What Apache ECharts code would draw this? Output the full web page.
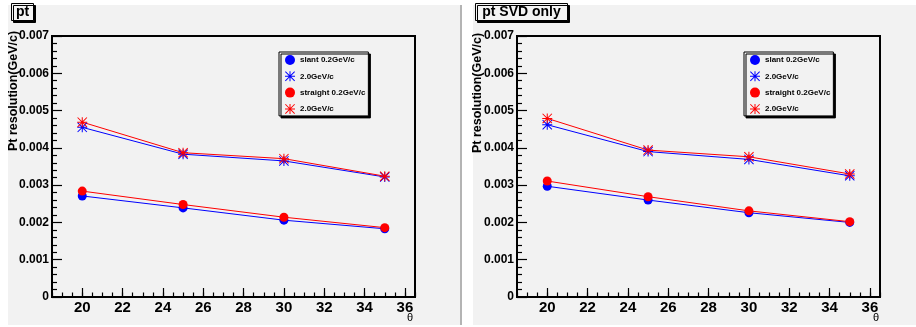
<!DOCTYPE html>
<html>
<head>
<meta charset="utf-8">
<script src="https://cdn.jsdelivr.net/npm/echarts@6/dist/echarts.min.js"></script>
<style>
  html, body { margin: 0; padding: 0; background: #fff; }
  #chart { width: 916px; height: 327px; }
</style>
</head>
<body>
<div id="chart"></div>
<script>
// theta values (x) and Pt resolution values
const theta = [20, 25, 30, 35];
const xTickValues = [20, 22, 24, 26, 28, 30, 32, 34, 36];

// panel "pt"
const ptSlant02 = [0.00271, 0.00239, 0.00206, 0.00183];
const ptSlant20 = [0.00455, 0.00383, 0.00365, 0.00322];
const ptStraight02 = [0.00284, 0.00248, 0.00214, 0.00186];
const ptStraight20 = [0.00469, 0.00387, 0.00371, 0.00324];

// panel "pt SVD only"
const svdSlant02 = [0.00297, 0.00260, 0.00226, 0.00200];
const svdSlant20 = [0.00462, 0.00390, 0.00369, 0.00325];
const svdStraight02 = [0.00311, 0.00269, 0.00231, 0.00202];
const svdStraight20 = [0.00479, 0.00394, 0.00376, 0.00330];

const legendLabels = {
  'slant 0.2GeV/c': 'slant 0.2GeV/c',
  'slant 2.0GeV/c': '2.0GeV/c',
  'straight 0.2GeV/c': 'straight 0.2GeV/c',
  'straight 2.0GeV/c': '2.0GeV/c'
};

const FONT = 'Liberation Sans';
// asterisk marker (ROOT style 3)
const STAR = 'path://M9 0L11 0L11 20L9 20Z M0 9L20 9L20 11L0 11Z M1.4 0L20 18.6L18.6 20L0 1.4Z M18.6 0L20 1.4L1.4 20L0 18.6Z';

const chart = echarts.init(document.getElementById('chart'));

const grids = [
  { left: 52, top: 36, width: 363, height: 261 },
  { left: 517, top: 36, width: 363, height: 261 }
];

function mainX(gi) {
  return {
    type: 'value', gridIndex: gi, min: 18.5, max: 36.5,
    axisLine: { lineStyle: { color: '#000', width: 2 } },
    axisTick: { inside: true, length: 9, customValues: xTickValues, lineStyle: { color: '#000', width: 1.2 } },
    axisLabel: { customValues: xTickValues, margin: 3, color: '#000', fontFamily: FONT, fontWeight: 'bold', fontSize: 15 },
    splitLine: { show: false }
  };
}
function minorX(gi) {
  return {
    type: 'value', gridIndex: gi, min: 18.5, max: 36.5, interval: 0.5, position: 'bottom',
    axisLine: { show: false },
    axisTick: { inside: true, length: 4.5, lineStyle: { color: '#000', width: 1.2 } },
    axisLabel: { show: false },
    splitLine: { show: false }
  };
}
function yAx(gi) {
  return {
    type: 'value', gridIndex: gi, min: 0, max: 0.007, interval: 0.001,
    axisLine: { show: true, lineStyle: { color: '#000', width: 2 } },
    axisTick: { show: true, inside: true, length: 10, lineStyle: { color: '#000', width: 1.2 } },
    minorTick: { show: true, splitNumber: 5, length: 5, lineStyle: { color: '#000', width: 1.2 } },
    axisLabel: {
      margin: 3, color: '#000', fontFamily: FONT, fontWeight: 'bold', fontSize: 12,
      formatter: v => (v === 0 ? '0' : v.toFixed(3))
    },
    splitLine: { show: false }
  };
}

function mk(name, vals, color, symbol, size, xi, yi) {
  return {
    name, type: 'line', xAxisIndex: xi, yAxisIndex: yi,
    data: theta.map((t, i) => [t, vals[i]]),
    symbol, symbolSize: size, showSymbol: true,
    lineStyle: { color, width: 1 },
    itemStyle: { color },
    emphasis: { disabled: true },
    z: 3
  };
}

function legendAt(left) {
  return {
    left, top: 52, orient: 'vertical', selectedMode: false,
    itemWidth: 10, itemHeight: 10, itemGap: 6.3,
    padding: [3, 3, 2, 6],
    backgroundColor: '#f2f2f2', borderColor: '#000', borderWidth: 1,
    shadowColor: '#000', shadowOffsetX: 2, shadowOffsetY: 2, shadowBlur: 0,
    textStyle: { fontFamily: FONT, fontWeight: 'bold', fontSize: 8, color: '#000' },
    formatter: n => legendLabels[n],
    data: [
      { name: 'slant 0.2GeV/c', icon: 'circle' },
      { name: 'slant 2.0GeV/c', icon: STAR },
      { name: 'straight 0.2GeV/c', icon: 'circle' },
      { name: 'straight 2.0GeV/c', icon: STAR }
    ]
  };
}

function titleBox(x, w, text) {
  return [
    { type: 'rect', shape: { x: x + 0.5, y: 3.5, width: w, height: 17 },
      style: { fill: '#f4f4f4', stroke: '#000', lineWidth: 1, shadowColor: '#000', shadowOffsetX: 2, shadowOffsetY: 2, shadowBlur: 0 } },
    { type: 'text', x: x + w / 2 + 0.5, y: 12.5,
      style: { text, fill: '#000', font: 'bold 14px "Liberation Sans"', textAlign: 'center', textVerticalAlign: 'middle' } }
  ];
}

function yName(x, y) {
  return { type: 'text', x, y, rotation: Math.PI / 2,
    style: { text: 'Pt resolution(GeV/c)', fill: '#000', font: 'bold 12.5px "Liberation Sans"', textAlign: 'center', textVerticalAlign: 'middle' } };
}
function thetaName(x, y) {
  return { type: 'text', x, y,
    style: { text: 'θ', fill: '#000', font: '11px "Liberation Sans"', textAlign: 'center', textVerticalAlign: 'middle' } };
}

const option = {
  animation: false,
  backgroundColor: '#fff',
  grid: grids.map(g => Object.assign({ show: true, borderColor: '#000', borderWidth: 2, backgroundColor: 'transparent' }, g)),
  xAxis: [mainX(0), minorX(0), mainX(1), minorX(1)],
  yAxis: [yAx(0), yAx(1)],
  legend: [legendAt(279), legendAt(744)],
  graphic: [
    { type: 'rect', z: -10, shape: { x: 8, y: 5, width: 452, height: 320 }, style: { fill: '#f2f2f2' } },
    { type: 'rect', z: -10, shape: { x: 460, y: 5, width: 2, height: 320 }, style: { fill: '#b4b4b4' } },
    { type: 'rect', z: -10, shape: { x: 473, y: 5, width: 443, height: 320 }, style: { fill: '#f2f2f2' } },
    ...titleBox(11, 22, 'pt'),
    ...titleBox(475, 92, 'pt SVD only'),
    yName(14, 91),
    yName(478, 93),
    thetaName(410, 318),
    thetaName(876, 318)
  ],
  series: [
    mk('slant 0.2GeV/c', ptSlant02, '#0000ff', 'circle', 9, 0, 0),
    mk('slant 2.0GeV/c', ptSlant20, '#0000ff', STAR, 10, 0, 0),
    mk('straight 0.2GeV/c', ptStraight02, '#ff0000', 'circle', 9, 0, 0),
    mk('straight 2.0GeV/c', ptStraight20, '#ff0000', STAR, 10, 0, 0),
    mk('slant 0.2GeV/c', svdSlant02, '#0000ff', 'circle', 9, 2, 1),
    mk('slant 2.0GeV/c', svdSlant20, '#0000ff', STAR, 10, 2, 1),
    mk('straight 0.2GeV/c', svdStraight02, '#ff0000', 'circle', 9, 2, 1),
    mk('straight 2.0GeV/c', svdStraight20, '#ff0000', STAR, 10, 2, 1)
  ]
};

chart.setOption(option);
</script>
</body>
</html>
